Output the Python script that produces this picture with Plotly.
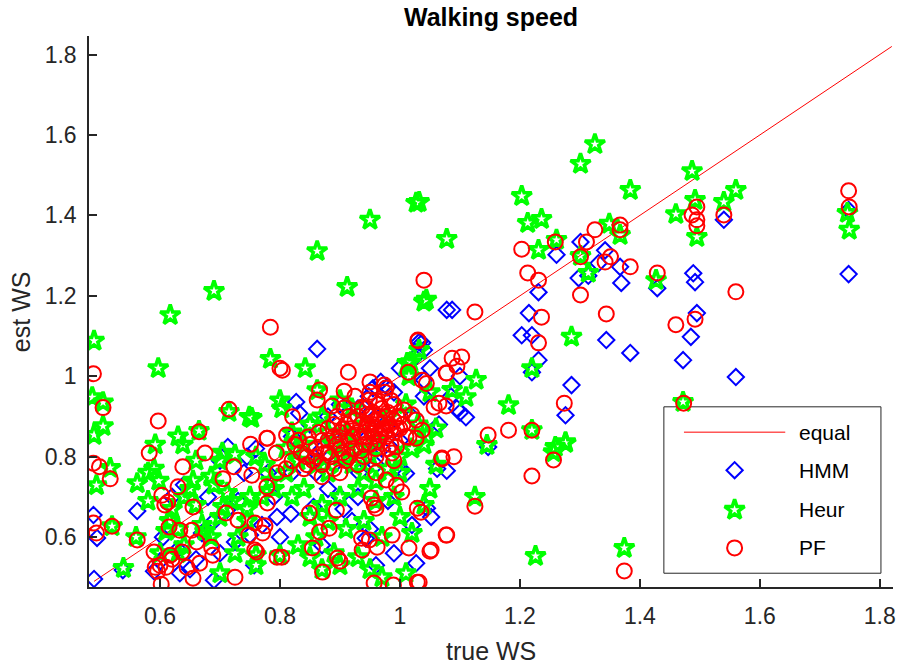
import plotly.graph_objects as go

# ---------------- data: true vs estimated walking speed ----------------
HMM_X = [0.490, 0.489, 0.495, 0.538, 0.562, 0.590, 0.633, 0.660, 0.690, 0.725, 0.713, 0.712, 0.745,
         0.757, 0.600, 0.620, 0.640, 0.630, 0.670, 0.690, 0.700, 0.730, 0.750, 0.770, 0.780, 0.795,
         0.605, 0.650, 0.700, 0.680, 0.760, 0.790, 0.740,
         0.862, 0.827, 0.832, 0.968, 0.979, 0.990, 0.955, 0.948, 1.032, 1.040, 1.028, 1.078, 1.065,
         1.062, 1.078, 1.045, 1.052, 1.027, 0.818, 0.856, 0.900, 0.906, 0.950, 0.943, 0.932, 1.003,
         1.010, 0.820, 0.850, 0.880, 0.900, 0.930, 0.960, 0.980, 0.840, 0.870, 0.910, 0.940, 0.970,
         1.000, 1.020, 1.040, 0.860, 0.890, 0.960, 0.820, 0.880, 0.930, 0.980, 1.020, 0.990, 0.960,
         0.870, 0.920, 1.000, 1.050, 1.040, 1.110, 1.100, 1.095, 1.087, 1.037, 1.147, 1.085, 1.100,
         0.800,
         1.261, 1.301, 1.298, 1.314, 1.342, 1.331, 1.367, 1.369, 1.231, 1.215, 1.203, 1.220, 1.231,
         1.220, 1.286, 1.276, 1.344, 1.384, 1.429, 1.472, 1.485, 1.489, 1.492, 1.540, 1.560, 1.748,
         1.748, 1.495]
HMM_Y = [0.496, 0.655, 0.598, 0.518, 0.665, 0.515, 0.510, 0.545, 0.493, 0.588, 0.824, 0.668, 0.800,
         0.530, 0.540, 0.700, 0.730, 0.570, 0.610, 0.640, 0.790, 0.690, 0.605, 0.630, 0.760, 0.650,
         0.600, 0.520, 0.560, 0.700, 0.820, 0.700, 0.760,
         1.068, 0.936, 0.908, 0.986, 0.973, 0.960, 0.970, 0.950, 1.085, 1.065, 1.052, 1.165, 0.880,
         0.770, 0.765, 0.672, 0.650, 0.535, 0.658, 0.675, 0.700, 0.670, 0.620, 0.597, 0.760, 0.765,
         0.758, 0.850, 0.880, 0.900, 0.930, 0.920, 0.900, 0.880, 0.800, 0.820, 0.850, 0.840, 0.820,
         0.840, 0.900, 0.950, 0.760, 0.780, 0.780, 0.760, 0.720, 0.700, 0.690, 0.630, 0.560, 0.530,
         0.580, 0.640, 1.020, 1.020, 0.990, 0.898, 0.910, 0.920, 1.165, 1.083, 0.824, 0.950, 1.000,
         0.600,
         1.302, 1.334, 1.244, 1.250, 1.313, 1.281, 1.272, 1.232, 1.209, 1.157, 1.102, 1.102, 1.040,
         1.010, 0.978, 0.903, 1.090, 1.058, 1.219, 1.040, 1.098, 1.256, 1.234, 1.389, 0.998, 1.413,
         1.254, 1.157]

HEUR_X = [1.325, 1.301, 1.487, 1.032, 1.203, 1.384, 1.213, 1.236, 1.078, 1.231, 1.261, 1.349, 1.367,
          1.301, 1.314, 1.044, 1.427, 1.286, 1.220, 1.472, 1.181, 1.276, 1.259, 1.220, 1.127, 1.110,
          1.087, 1.012, 1.032, 1.460, 1.492, 1.540, 1.560, 1.495, 1.746, 1.749, 1.256, 1.276, 1.145,
          1.125, 1.226, 1.374, 0.617, 0.690, 0.862, 0.912, 0.950, 1.027, 0.490, 0.597, 0.784, 0.842,
          1.040, 1.018, 1.015,
          0.487, 0.505, 0.505, 0.490, 0.517, 0.494, 0.562, 0.590, 0.630, 0.638, 0.592, 0.580, 0.598,
          0.715, 0.753, 0.665, 0.704, 0.700, 0.725, 0.660, 0.655, 0.650, 0.685, 0.690, 0.712, 0.720,
          0.750, 0.745, 0.520, 0.539, 0.700, 0.725, 0.760, 0.616, 0.610, 0.630, 0.670, 0.675, 0.685,
          0.640, 0.630, 0.600, 0.560, 0.580, 0.620, 0.660, 0.640, 0.700, 0.775, 0.760, 0.785, 0.790,
          0.770, 0.800, 0.760, 0.745, 0.730, 0.705,
          0.749, 0.800, 0.803, 0.862, 0.850, 0.870, 0.900, 0.920, 0.880, 0.820, 0.840, 0.810, 0.830,
          0.860, 0.880, 0.900, 0.920, 0.940, 0.960, 0.980, 1.000, 1.020, 1.040, 1.060, 1.045, 1.030,
          1.010, 1.050, 0.990, 0.960, 0.930, 0.900, 0.870, 0.840, 0.820, 0.850, 0.880, 0.910, 0.940,
          0.970, 1.020, 1.000, 1.040, 1.050, 1.060, 0.860, 0.890, 0.900, 0.930, 0.950, 0.970, 1.010,
          0.850, 0.830, 0.870, 0.940, 0.960, 0.980, 0.910, 0.930, 0.950, 0.890, 1.000, 0.810]
HEUR_Y = [1.577, 1.528, 1.510, 1.433, 1.448, 1.463, 1.381, 1.391, 1.341, 1.314, 1.339, 1.379, 1.351,
          1.299, 1.257, 1.190, 1.239, 1.098, 1.020, 0.936, 0.928, 0.836, 0.824, 0.866, 0.991, 0.948,
          0.966, 1.033, 1.065, 1.403, 1.438, 1.433, 1.463, 1.346, 1.406, 1.364, 0.811, 0.834, 0.829,
          0.700, 0.553, 0.573, 1.152, 1.212, 1.311, 1.222, 1.389, 1.431, 1.088, 1.020, 1.043, 1.020,
          1.185, 1.035, 1.000,
          0.948, 0.935, 0.876, 0.854, 0.772, 0.729, 0.734, 0.770, 0.850, 0.830, 0.830, 0.760, 0.740,
          0.911, 0.896, 0.864, 0.810, 0.790, 0.805, 0.790, 0.740, 0.720, 0.750, 0.730, 0.710, 0.690,
          0.700, 0.670, 0.627, 0.523, 0.510, 0.560, 0.555, 0.640, 0.615, 0.620, 0.630, 0.615, 0.600,
          0.580, 0.560, 0.560, 0.600, 0.690, 0.670, 0.680, 0.700, 0.650, 0.780, 0.800, 0.740, 0.720,
          0.700, 0.555, 0.530, 0.640, 0.600, 0.675,
          0.899, 0.940, 0.920, 0.965, 0.880, 0.900, 0.940, 0.920, 0.860, 0.860, 0.830, 0.820, 0.790,
          0.780, 0.760, 0.800, 0.780, 0.760, 0.740, 0.770, 0.800, 0.820, 0.830, 0.870, 0.850, 0.880,
          0.930, 0.960, 0.700, 0.690, 0.720, 0.700, 0.680, 0.720, 0.700, 0.650, 0.640, 0.620, 0.640,
          0.600, 0.610, 0.650, 0.680, 0.720, 0.780, 0.600, 0.560, 0.530, 0.550, 0.520, 0.500, 0.510,
          0.550, 0.580, 0.520, 0.880, 0.840, 0.900, 0.860, 0.820, 0.800, 0.830, 0.760, 0.760]

PF_X = [0.784, 0.489, 0.505, 0.715, 0.597, 0.665, 0.778, 0.751, 0.675, 0.582, 0.489, 0.499, 0.517,
        0.638, 0.723, 0.705, 0.753, 0.630, 0.603, 0.613, 0.608, 0.655, 0.710, 0.730, 0.489, 0.494,
        0.520, 0.562, 0.615, 0.633, 0.653, 0.661, 0.590, 0.617, 0.637, 0.686, 0.688, 0.666, 0.645,
        0.592, 0.600, 0.610, 0.655, 0.725, 0.602, 0.761, 0.748, 0.771, 0.758, 0.775, 0.779, 0.778,
        0.795, 0.800, 0.795, 0.596, 0.620,
        0.804, 0.914, 1.030, 1.014, 1.077, 1.037, 1.044, 0.950, 0.974, 0.977, 0.907, 0.866, 0.887,
        0.862, 0.907, 0.937, 0.949, 0.821, 0.779, 0.847, 0.831, 0.811, 0.794, 1.065, 1.057, 1.077,
        1.007, 1.020, 1.027, 1.037, 1.027, 1.015, 0.994, 0.987, 1.070, 1.090, 0.977, 0.994, 1.003,
        0.952, 0.957, 0.960, 1.029, 1.035, 0.849, 0.894, 0.866, 0.882, 0.936, 0.949, 0.962, 0.937,
        0.987, 1.015, 1.052, 1.077, 0.854, 0.896, 0.900, 0.871, 0.803, 0.957, 0.989, 1.029, 0.758,
        1.087, 1.103, 1.078, 1.095, 1.030, 1.040, 1.125,
        0.845, 0.855, 0.860, 0.870, 0.875, 0.880, 0.885, 0.890, 0.895, 0.900, 0.905, 0.910, 0.915,
        0.920, 0.925, 0.930, 0.935, 0.940, 0.945, 0.950, 0.955, 0.958, 0.962, 0.965, 0.970, 0.972,
        0.975, 0.978, 0.982, 0.985, 0.990, 0.995, 1.000, 0.930, 0.960, 0.900, 0.870, 0.840, 0.820,
        0.810, 0.960, 0.990, 0.945, 0.915, 0.890, 0.865, 0.925, 0.960,
        0.880, 0.890, 0.900, 0.910, 0.920, 0.925, 0.930, 0.935, 0.940, 0.945, 0.950, 0.950, 0.955,
        0.960, 0.965, 0.968, 0.970, 0.975, 0.980, 0.985, 0.990, 0.995, 1.000, 0.940, 0.920, 0.900,
        0.880, 0.860, 0.850, 0.870, 0.960, 0.980, 0.915, 0.935, 0.955, 0.905, 0.895, 0.945, 0.965,
        0.985, 0.975, 0.950, 0.835, 0.845, 0.825, 1.005, 1.010, 0.990,
        1.748, 1.749, 1.495, 1.487, 1.495, 1.495, 1.540, 1.429, 1.560, 1.460, 1.492, 1.473, 1.325,
        1.311, 1.367, 1.367, 1.203, 1.259, 1.301, 1.342, 1.351, 1.384, 1.213, 1.231, 1.301, 1.344,
        1.236, 1.231, 1.274, 1.147, 1.181, 1.220, 1.256, 1.220, 1.125, 1.070, 1.078, 1.050, 1.032,
        1.374]
PF_Y = [1.122, 1.006, 0.922, 0.918, 0.889, 0.862, 0.846, 0.831, 0.809, 0.809, 0.784, 0.775, 0.745,
        0.775, 0.775, 0.745, 0.754, 0.725, 0.704, 0.687, 0.680, 0.675, 0.660, 0.642, 0.635, 0.610,
        0.627, 0.593, 0.625, 0.617, 0.617, 0.588, 0.563, 0.555, 0.563, 0.575, 0.555, 0.535, 0.525,
        0.525, 0.530, 0.525, 0.498, 0.500, 0.483, 0.563, 0.605, 0.610, 0.635, 0.628, 0.685, 0.725,
        0.760, 1.020, 0.550, 0.515, 0.545,
        1.015, 1.010, 1.090, 1.010, 1.008, 0.990, 0.982, 0.986, 0.978, 0.971, 0.963, 0.966, 0.926,
        0.941, 0.921, 0.923, 0.941, 0.899, 0.846, 0.849, 0.841, 0.854, 0.809, 0.933, 0.923, 0.926,
        0.916, 0.904, 0.891, 0.866, 0.846, 0.848, 0.824, 0.809, 0.797, 0.800, 0.742, 0.729, 0.712,
        0.697, 0.680, 0.672, 0.672, 0.662, 0.660, 0.667, 0.613, 0.622, 0.597, 0.593, 0.575, 0.568,
        0.605, 0.573, 0.568, 0.605, 0.573, 0.548, 0.540, 0.513, 0.550, 0.486, 0.481, 0.488, 0.568,
        1.045, 1.048, 1.008, 1.025, 1.088, 1.239, 1.160,
        0.800, 0.790, 0.820, 0.780, 0.810, 0.840, 0.800, 0.770, 0.830, 0.860, 0.810, 0.790, 0.840,
        0.870, 0.820, 0.900, 0.850, 0.800, 0.880, 0.830, 0.910, 0.860, 0.890, 0.840, 0.920, 0.870,
        0.900, 0.850, 0.880, 0.830, 0.860, 0.900, 0.870, 0.780, 0.800, 0.760, 0.750, 0.770, 0.790,
        0.770, 0.760, 0.790, 0.920, 0.900, 0.880, 0.860, 0.950, 0.940,
        0.870, 0.850, 0.840, 0.880, 0.850, 0.890, 0.860, 0.880, 0.860, 0.850, 0.870, 0.900, 0.880,
        0.870, 0.900, 0.860, 0.880, 0.860, 0.910, 0.870, 0.890, 0.870, 0.900, 0.830, 0.820, 0.820,
        0.810, 0.800, 0.830, 0.840, 0.820, 0.820, 0.800, 0.815, 0.850, 0.870, 0.900, 0.905, 0.930,
        0.940, 0.960, 0.960, 0.810, 0.780, 0.830, 0.880, 0.850, 0.930,
        1.461, 1.421, 1.421, 1.401, 1.389, 1.374, 1.401, 1.257, 1.210, 1.128, 1.142, 0.933, 1.364,
        1.334, 1.376, 1.364, 1.316, 1.334, 1.297, 1.284, 1.297, 1.272, 1.257, 1.239, 1.202, 1.155,
        1.147, 1.083, 0.933, 0.854, 0.866, 0.866, 0.792, 0.752, 0.677, 0.794, 0.605, 0.565, 0.488,
        0.516]

EQUAL_LINE = [0.49, 1.82]
X_RANGE = [0.4816, 1.822]
Y_RANGE = [0.476, 1.846]
TICKS = [0.6, 0.8, 1.0, 1.2, 1.4, 1.6, 1.8]
TICK_TEXT = ["0.6", "0.8", "1", "1.2", "1.4", "1.6", "1.8"]

LEGEND_NAMES = ["equal", "HMM", "Heur", "PF"]

BLUE = "#0000ff"
GREEN = "#00ff00"
RED = "#ff0000"
AXIS = "#262626"
FONT = "Liberation Sans, Arial, Helvetica, sans-serif"

HMM_MARKER = dict(symbol="diamond-open", size=12.5, color=BLUE, line=dict(color=BLUE, width=2))
HEUR_MARKER = dict(symbol="star-open", size=15, color=GREEN, line=dict(color=GREEN, width=3.5))
PF_MARKER = dict(symbol="circle-open", size=15, color=RED, line=dict(color=RED, width=2))

fig = go.Figure()

fig.add_trace(go.Scatter(x=EQUAL_LINE, y=EQUAL_LINE, mode="lines",
                         line=dict(color=RED, width=1), name="equal", hoverinfo="skip"))
fig.add_trace(go.Scatter(x=HMM_X, y=HMM_Y, mode="markers", name="HMM", marker=HMM_MARKER))
fig.add_trace(go.Scatter(x=HEUR_X, y=HEUR_Y, mode="markers", name="Heur", marker=HEUR_MARKER))
fig.add_trace(go.Scatter(x=PF_X, y=PF_Y, mode="markers", name="PF", marker=PF_MARKER))

# ---- legend box drawn in plot-area fractions (overlay axes 0..1) ----
LEG_X0, LEG_X1, LEG_Y0, LEG_Y1 = 0.715, 0.985, 0.025, 0.327
LEG_ROWS = [0.281, 0.212, 0.140, 0.071]
LEG_SYM_X = 0.803
LEG_TXT_X = 0.880

fig.add_shape(type="rect", xref="paper", yref="paper", x0=LEG_X0, x1=LEG_X1, y0=LEG_Y0, y1=LEG_Y1,
              line=dict(color=AXIS, width=1), fillcolor="white", layer="below")
fig.add_shape(type="line", xref="paper", yref="paper", x0=0.740, x1=0.866,
              y0=LEG_ROWS[0], y1=LEG_ROWS[0], line=dict(color=RED, width=1))
for mk, ry in zip([HMM_MARKER, HEUR_MARKER, PF_MARKER], LEG_ROWS[1:]):
    fig.add_trace(go.Scatter(x=[LEG_SYM_X], y=[ry], xaxis="x2", yaxis="y2", mode="markers",
                             marker=mk, hoverinfo="skip"))
for name, ry in zip(LEGEND_NAMES, LEG_ROWS):
    fig.add_annotation(text=name, xref="paper", yref="paper", x=LEG_TXT_X, y=ry,
                       xanchor="left", yanchor="middle", showarrow=False,
                       font=dict(family=FONT, size=21, color="#000000"))

# ---- titles ----
fig.add_annotation(text="<b>Walking speed</b>", xref="paper", yref="paper", x=0.5, y=1.0,
                   yshift=19, xanchor="center", yanchor="middle", showarrow=False,
                   font=dict(family=FONT, size=25, color="#000000"))
fig.add_annotation(text="true WS", xref="paper", yref="paper", x=0.5, y=-0.116,
                   xanchor="center", yanchor="middle", showarrow=False,
                   font=dict(family=FONT, size=25, color=AXIS))
fig.add_annotation(text="est WS", xref="paper", yref="paper", x=-0.085, y=0.5,
                   xanchor="center", yanchor="middle", textangle=-90, showarrow=False,
                   font=dict(family=FONT, size=25, color=AXIS))

axis_common = dict(showgrid=False, zeroline=False, showline=True, linecolor=AXIS, linewidth=1.5,
                   ticks="inside", ticklen=8, tickwidth=1.5, tickcolor=AXIS,
                   tickvals=TICKS, ticktext=TICK_TEXT, mirror=False,
                   tickfont=dict(family=FONT, size=23, color=AXIS))

fig.update_layout(
    width=902, height=664,
    margin=dict(l=89, r=6, t=36, b=77),
    paper_bgcolor="white", plot_bgcolor="white",
    showlegend=False,
    xaxis=dict(range=X_RANGE, ticklabelstandoff=8, **axis_common),
    yaxis=dict(range=Y_RANGE, ticklabelstandoff=6, **axis_common),
    xaxis2=dict(range=[0, 1], overlaying="x", anchor="y2", visible=False),
    yaxis2=dict(range=[0, 1], overlaying="y", anchor="x2", visible=False),
)

fig.write_html("out.html")
